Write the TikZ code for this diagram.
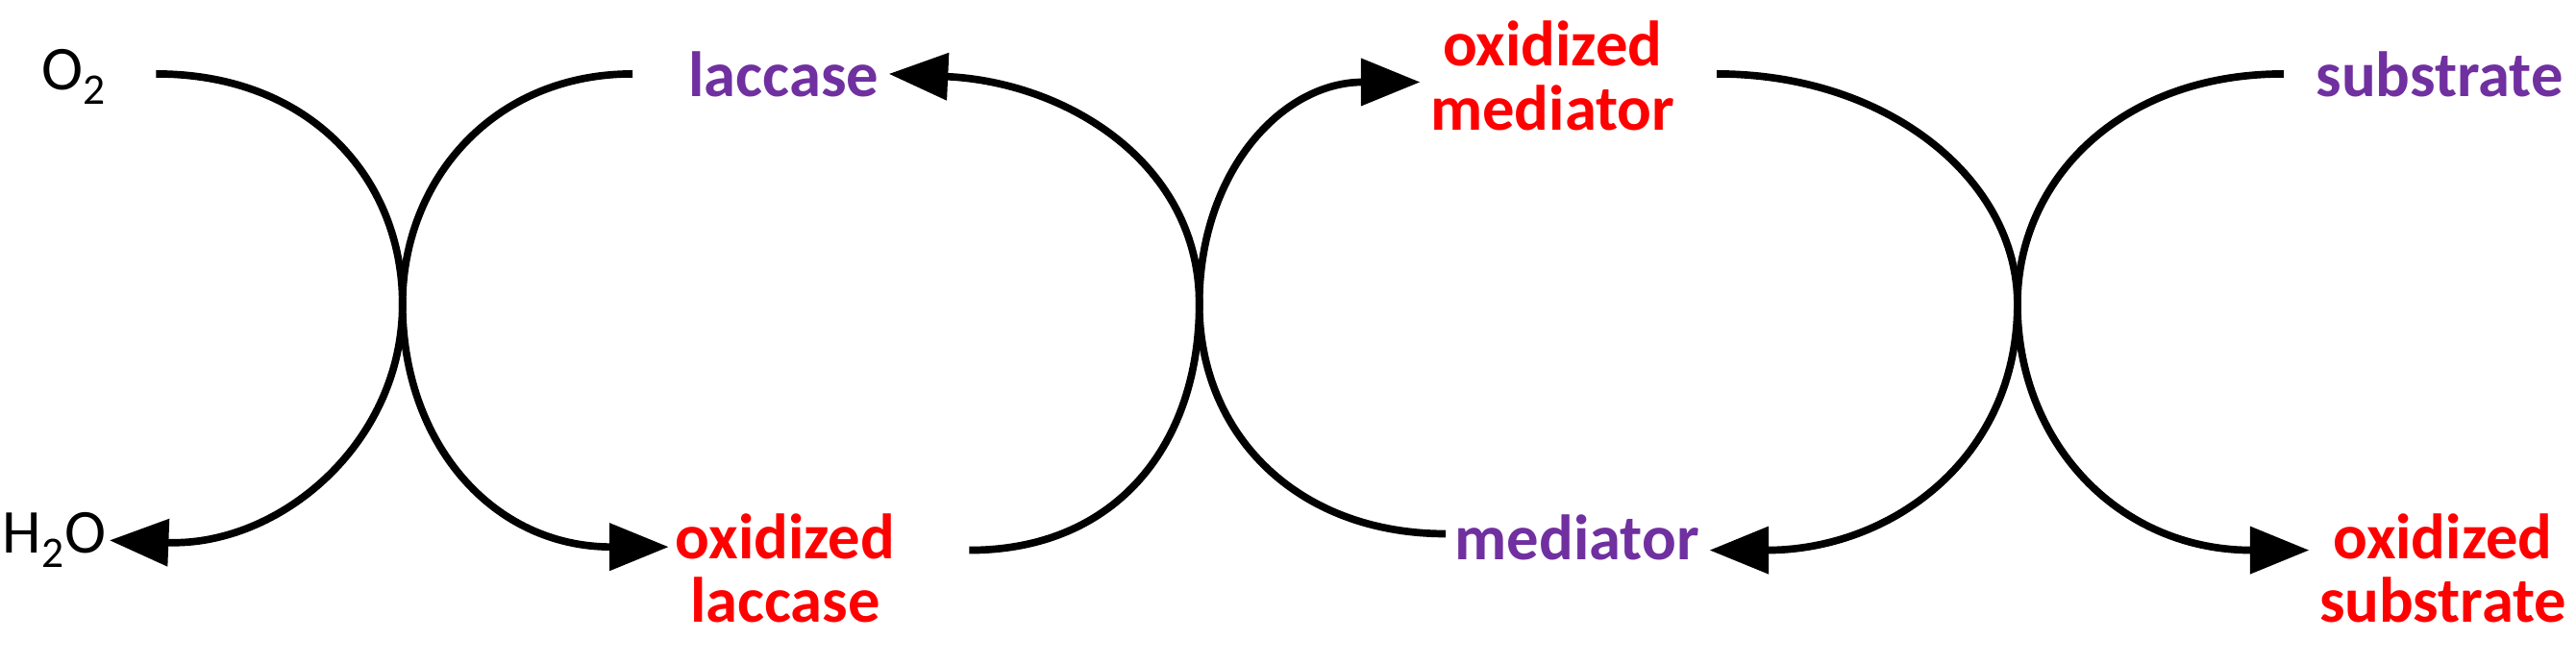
\documentclass[tikz,border=0pt]{standalone}
\usepackage{fontspec}
\setmainfont{Carlito}
\usetikzlibrary{arrows.meta}
\definecolor{pur}{RGB}{112,48,160}
\definecolor{rd}{RGB}{255,0,0}
\begin{document}
\begin{tikzpicture}[x=1pt,y=-1pt,
  lbl/.style={font=\fontsize{39}{39}\selectfont\bfseries,align=center,inner sep=0},
  blk/.style={font=\fontsize{38}{38}\selectfont,inner sep=0},
  arc/.style={line width=4.5pt,-{Triangle[length=36pt,width=28pt]}}]
\useasboundingbox (0,0) rectangle (1568,404);
\node[blk] (o2) at (45,47) {O\textsubscript{2}};
\node[blk] (h2o) at (33,329) {H\textsubscript{2}O};
\node[lbl,text=pur] (lac) at (477,45) {laccase};
\node[lbl,text=rd] (olac) at (478,346) {oxidized\\laccase};
\node[lbl,text=rd] (omed) at (945,46) {oxidized\\mediator};
\node[lbl,text=pur] (med) at (960,327) {mediator};
\node[lbl,text=pur] (sub) at (1485,45) {substrate};
\node[lbl,text=rd] (osub) at (1487,346) {oxidized\\substrate};
\coordinate (c1) at (95,45);
\coordinate (c2) at (385,45);
\coordinate (c3) at (590,335);
\coordinate (c4) at (880,325);
\coordinate (c5) at (1045,45);
\coordinate (c6) at (1390,45);
\draw[arc] (c1) .. controls (190,45) and (245,110) .. (245,185) .. controls (245,270) and (170,333) .. ([xshift=2pt]h2o.east);
\draw[arc] (c2) .. controls (300,45) and (245,110) .. (245,185) .. controls (245,270) and (300,333) .. ([xshift=-4pt]olac.west|-0,333);
\draw[arc] (c3) .. controls (680,335) and (730,270) .. (730,185) .. controls (730,100) and (650,50) .. ([xshift=6pt]lac.east);
\draw[arc] (c4) .. controls (790,325) and (730,265) .. (730,185) .. controls (730,105) and (780,50) .. ([xshift=-6pt]omed.west|-0,50);
\draw[arc] (c5) .. controls (1150,45) and (1228,110) .. (1228,185) .. controls (1228,280) and (1150,335) .. ([xshift=6pt]med.east|-0,335);
\draw[arc] (c6) .. controls (1290,45) and (1228,110) .. (1228,185) .. controls (1228,270) and (1290,335) .. ([xshift=-6pt]osub.west|-0,335);
\end{tikzpicture}
\end{document}
